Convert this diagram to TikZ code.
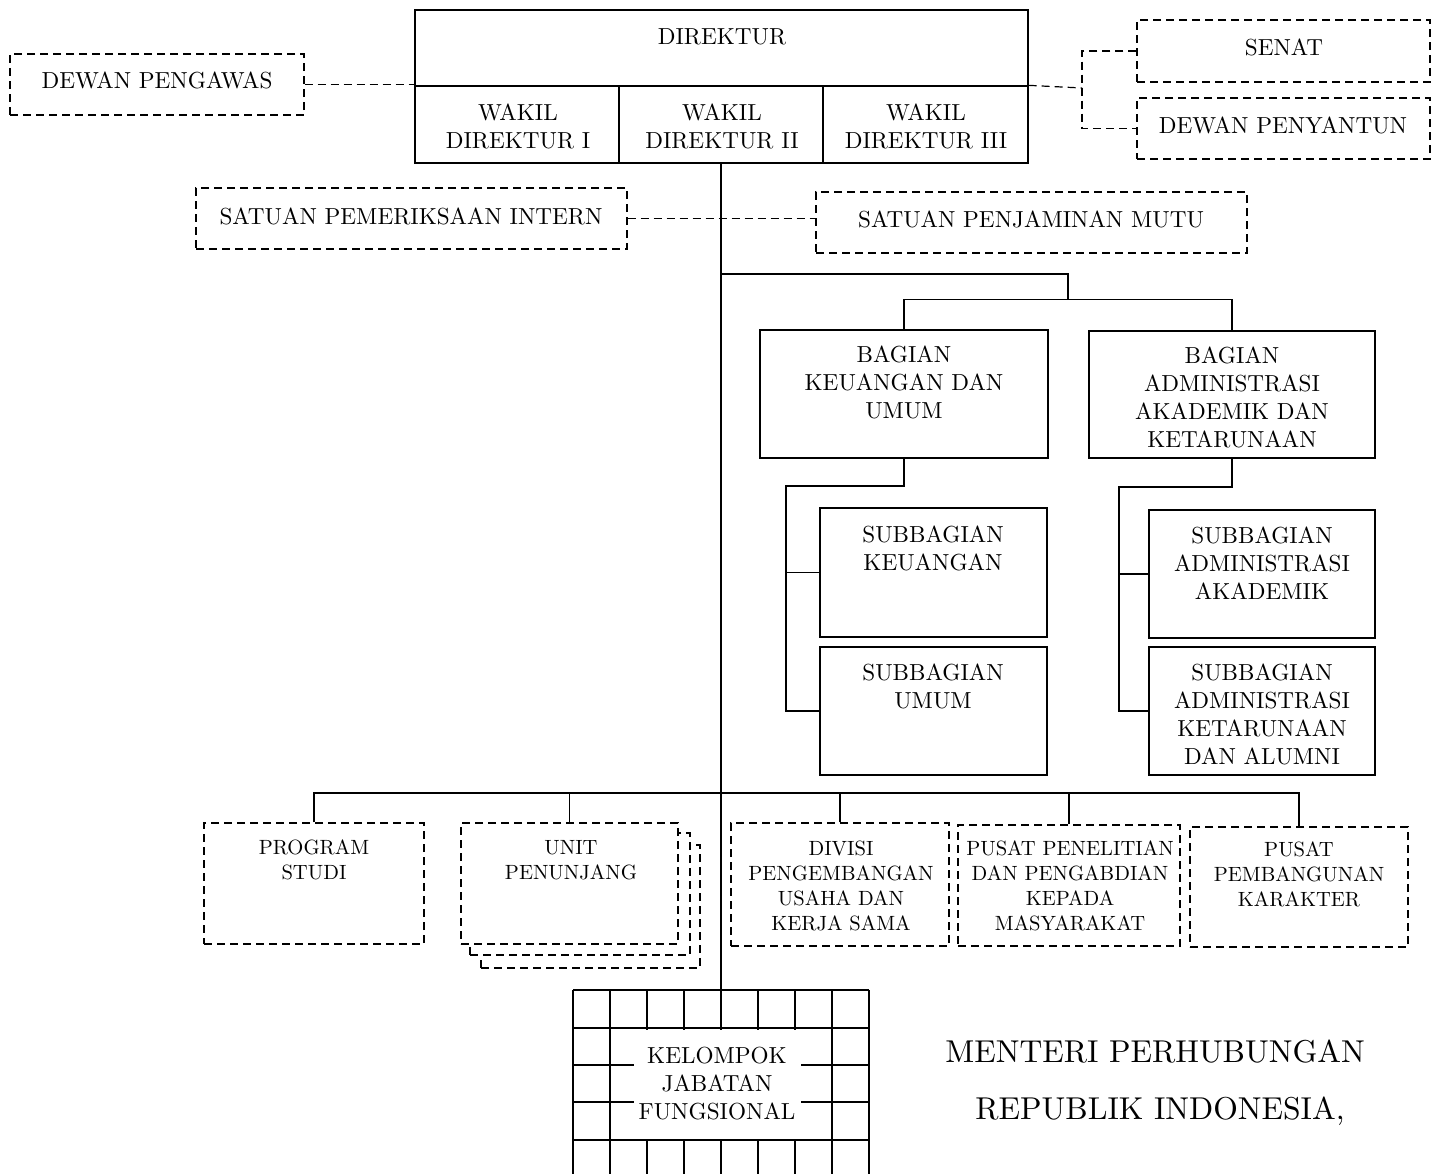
\documentclass[tikz,border=0pt]{standalone}
\usepackage{fontspec}
\setmainfont{lmroman10-regular.otf}
\usepackage{tikz}

\tikzset{
  orgbox/.style={draw, line width=1.3pt, inner sep=0pt},
  dorgbox/.style={orgbox, dash pattern=on 8pt off 5pt, fill=white},
  lbl/.style={font=\fontsize{23.2}{28}\selectfont, align=center, inner sep=0pt},
  slbl/.style={font=\fontsize{20.6}{25}\selectfont, align=center, inner sep=0pt},
  link/.style={line width=1.2pt},
  dlink/.style={line width=1.2pt, dash pattern=on 8pt off 5pt},
}

\begin{document}
\begin{tikzpicture}[x=1pt,y=-1pt]
                \useasboundingbox (0,0) rectangle (1439,1173);

                % main line and grid
                \coordinate (kg) at (721,990);
                \foreach \x in {573,610,...,869}
                    \draw[link] (\x,990) -- (\x,1190);
                \foreach \y in {990,1028,1065,1102,1140}
                    \draw[link] (573,\y) -- (869,\y);
                \node[lbl, fill=white, minimum width=167pt, minimum height=109pt] (kjf) at (717,1084) {KELOMPOK\\JABATAN\\FUNGSIONAL};

                % top
                \node[orgbox, minimum width=613pt, minimum height=76pt] (dir) at (721.5,48) {};
                \node[orgbox, minimum width=204pt, minimum height=77pt] (w1) at (517,124.5) {};
                \node[orgbox, minimum width=204pt, minimum height=77pt] (w2) at (721,124.5) {};
                \node[orgbox, minimum width=205pt, minimum height=77pt] (w3) at (925.5,124.5) {};
                \node[lbl] (dir-t) at (722,37) {DIREKTUR};
                \node[lbl] (w1-t) at (518,126) {WAKIL\\DIREKTUR I};
                \node[lbl] (w2-t) at (722,126) {WAKIL\\DIREKTUR II};
                \node[lbl] (w3-t) at (926,126) {WAKIL\\DIREKTUR III};

                \draw[link] (w2.south) -- (kg);

                \node[dorgbox, minimum width=294pt, minimum height=61pt] (dp) at (157,84.5) {};
                \node[lbl] (dp-t) at (157,80) {DEWAN PENGAWAS};
                \node[dorgbox, minimum width=293pt, minimum height=62pt] (senat) at (1283.5,51) {};
                \node[lbl] (senat-t) at (1284,47) {SENAT};
                \node[dorgbox, minimum width=293pt, minimum height=61pt] (penyantun) at (1283.5,128.5) {};
                \node[lbl] (penyantun-t) at (1283,125) {DEWAN PENYANTUN};

                \draw[dlink] (dp.east) -- (dp.east -| dir.west);
                \coordinate (rj) at (1082,88);
                \draw[dlink] (w3.north east) -- (rj);
                \draw[dlink] (senat.west) -| (rj) |- (penyantun.west);

                \node[dorgbox, minimum width=431pt, minimum height=61pt] (spi) at (411.5,218.5) {};
                \node[lbl] (spi-t) at (411,216) {SATUAN PEMERIKSAAN INTERN};
                \node[dorgbox, minimum width=431pt, minimum height=61pt] (spm) at (1031.5,222.5) {};
                \node[lbl] (spm-t) at (1031,219) {SATUAN PENJAMINAN MUTU};
                \draw[dlink] (spi.east) -- (spi.east -| spm.west);

                % bagian
                \node[orgbox, minimum width=288pt, minimum height=128pt] (bku) at (904,394) {};
                \node[lbl] (bku-t) at (904,382) {BAGIAN\\KEUANGAN DAN\\UMUM};
                \node[orgbox, minimum width=286pt, minimum height=127pt] (baak) at (1232,394.5) {};
                \node[lbl] (baak-t) at (1232,397) {BAGIAN\\ADMINISTRASI\\AKADEMIK DAN\\KETARUNAAN};

                \coordinate (b1) at (721,274);
                \coordinate (b2) at (1068,300);
                \draw[link] (b1) -| (b2);
                \draw[link] (bku.north) -- ++(0,-30) -| (baak.north);

                \node[orgbox, minimum width=227pt, minimum height=129pt] (sbk) at (933.5,572.5) {};
                \node[lbl] (sbk-t) at (933,548) {SUBBAGIAN\\KEUANGAN};
                \node[orgbox, minimum width=227pt, minimum height=128pt] (sbu) at (933.5,711) {};
                \node[lbl] (sbu-t) at (933,686) {SUBBAGIAN\\UMUM};
                \node[orgbox, minimum width=226pt, minimum height=128pt] (sbaa) at (1262,574) {};
                \node[lbl] (sbaa-t) at (1262,563) {SUBBAGIAN\\ADMINISTRASI\\AKADEMIK};
                \node[orgbox, minimum width=226pt, minimum height=128pt] (sbak) at (1262,711) {};
                \node[lbl] (sbak-t) at (1262,714) {SUBBAGIAN\\ADMINISTRASI\\KETARUNAAN\\DAN ALUMNI};

                \coordinate (k1) at (786,486);
                \draw[link] (bku.south) |- (k1) |- (sbu.west);
                \draw[link] (k1 |- sbk.west) -- (sbk.west);
                \coordinate (a1) at (1119,487);
                \draw[link] (baak.south) |- (a1) |- (sbak.west);
                \draw[link] (a1 |- sbaa.west) -- (sbaa.west);

                % bottom row
                \coordinate (bus) at (721,793);
                \node[dorgbox, minimum width=220pt, minimum height=121pt] (ps) at (314,883.5) {};
                \node[slbl] (ps-t) at (314,860) {PROGRAM\\STUDI};
                \node[dorgbox, minimum width=219pt, minimum height=123pt] (up3) at (590.5,906.5) {};
                \node[dorgbox, minimum width=220pt, minimum height=122pt] (up2) at (580,894) {};
                \node[dorgbox, minimum width=217pt, minimum height=121pt] (up) at (569.5,883.5) {};
                \node[slbl] (up-t) at (571,860) {UNIT\\PENUNJANG};
                \node[dorgbox, minimum width=218pt, minimum height=123pt] (div) at (840,884.5) {};
                \node[slbl] (div-t) at (841,885.5) {DIVISI\\PENGEMBANGAN\\USAHA DAN\\KERJA SAMA};
                \node[dorgbox, minimum width=222pt, minimum height=121pt] (ppm) at (1069,885.5) {};
                \node[slbl] (ppm-t) at (1070,885.5) {PUSAT PENELITIAN\\DAN PENGABDIAN\\KEPADA\\MASYARAKAT};
                \node[dorgbox, minimum width=218pt, minimum height=120pt] (ppk) at (1299,887) {};
                \node[slbl] (ppk-t) at (1299,874) {PUSAT\\PEMBANGUNAN\\KARAKTER};

                \draw[link] (ps.north) |- (bus) -| (ppk.north);
                \foreach \n in {up,div,ppm}
                    \draw[link] (\n.north) -- (\n.north |- bus);

                \node[font=\fontsize{31.6}{38}\selectfont, inner sep=0pt] (mt1) at (1155,1052) {MENTERI PERHUBUNGAN};
                \node[font=\fontsize{31.6}{38}\selectfont, inner sep=0pt] (mt2) at (1160,1111) {REPUBLIK INDONESIA,};
            \end{tikzpicture}
\end{document}
